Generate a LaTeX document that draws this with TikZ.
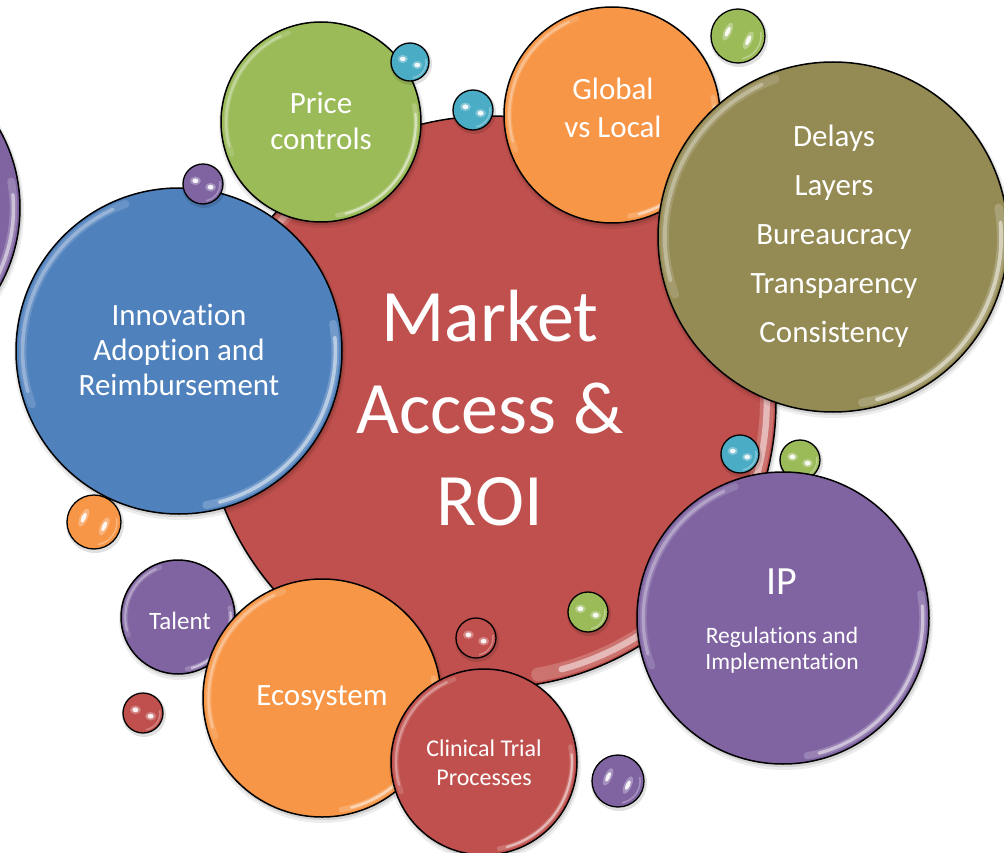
\documentclass[tikz,border=0pt]{standalone}
\usepackage{fontspec}
\setmainfont{Carlito}[Ligatures=NoCommon]
\definecolor{cRed}{HTML}{C0504D}
\definecolor{cBlue}{HTML}{4F81BD}
\definecolor{cGreen}{HTML}{9BBB59}
\definecolor{cPurple}{HTML}{8064A2}
\definecolor{cAqua}{HTML}{4BACC6}
\definecolor{cOrange}{HTML}{F79646}
\definecolor{cOlive}{HTML}{948A54}
\tikzset{
  bubble/.style={circle,draw=black,line width=1.5pt,inner sep=0pt,outer sep=0pt},
  lbl/.style={text=white,align=center,inner sep=0pt}
}
% big bubble: name, x, y, r, colour
\newcommand\mkbubble[5]{%
  \pgfmathsetmacro\bubRad{#4}%
  \pgfmathsetmacro\bubRadS{#4+3}%
  \pgfmathsetmacro\bubRadT{#4+1.2}%
  \pgfmathsetmacro\bubDia{2*#4}%
  \pgfmathsetmacro\bubHi{#4-3-0.022*#4}%
  \pgfmathsetmacro\bubWd{max(2.2,0.022*#4)}%
  \pgfmathsetmacro\bubWdB{2.2*max(2.2,0.022*#4)}%
  \fill[black,opacity=0.07] (#2+1,#3+3) circle[radius=\bubRadS pt];
  \fill[black,opacity=0.10] (#2+1,#3+2) circle[radius=\bubRadT pt];
  \node[bubble,fill=#5,minimum size=\bubDia pt] (#1) at (#2,#3) {};
  \draw[white,opacity=0.15,line width=\bubWdB pt,line cap=round]
    ([shift={(110:\bubHi pt)}]#1.center) arc[start angle=110,end angle=200,radius=\bubHi pt];
  \draw[white,opacity=0.3,line width=\bubWd pt,line cap=round]
    ([shift={(115:\bubHi pt)}]#1.center) arc[start angle=115,end angle=195,radius=\bubHi pt];
  \draw[white,opacity=0.2,line width=\bubWdB pt,line cap=round]
    ([shift={(-80:\bubHi pt)}]#1.center) arc[start angle=-80,end angle=10,radius=\bubHi pt];
  \draw[white,opacity=0.5,line width=\bubWd pt,line cap=round]
    ([shift={(-75:\bubHi pt)}]#1.center) arc[start angle=-75,end angle=5,radius=\bubHi pt];
}
% small ball: name, x, y, r, colour, xr factor, yr factor, rotation
\newcommand\mkball[8]{%
  \pgfmathsetmacro\blRadS{#4+2}%
  \pgfmathsetmacro\blDia{2*#4}%
  \pgfmathsetmacro\blOx{0.38*#4}%
  \pgfmathsetmacro\blOy{0.16*#4}%
  \pgfmathsetmacro\blA{#6*#4}%
  \pgfmathsetmacro\blB{#7*#4}%
  \pgfmathsetmacro\blAg{1.8*#6*#4}%
  \pgfmathsetmacro\blBg{1.8*#7*#4}%
  \pgfmathsetmacro\blHi{0.85*#4}%
  \fill[black,opacity=0.12] (#2+1,#3+2) circle[radius=\blRadS pt];
  \node[bubble,line width=1.3pt,fill=#5,minimum size=\blDia pt] (#1) at (#2,#3) {};
  \draw[white,opacity=0.3,line width=1.5pt]
    ([shift={(-80:\blHi pt)}]#1.center) arc[start angle=-80,end angle=10,radius=\blHi pt];
  \begin{scope}[shift={(#1.center)}]
    \fill[white,opacity=0.3,rotate around={#8:(-\blOx pt,\blOy pt)}] (-\blOx pt,\blOy pt) ellipse[x radius=\blAg pt,y radius=\blBg pt];
    \fill[white,opacity=0.3,rotate around={#8:(\blOx pt,-\blOy pt)}] (\blOx pt,-\blOy pt) ellipse[x radius=\blAg pt,y radius=\blBg pt];
    \fill[white,opacity=0.9,rotate around={#8:(-\blOx pt,\blOy pt)}] (-\blOx pt,\blOy pt) ellipse[x radius=\blA pt,y radius=\blB pt];
    \fill[white,opacity=0.9,rotate around={#8:(\blOx pt,-\blOy pt)}] (\blOx pt,-\blOy pt) ellipse[x radius=\blA pt,y radius=\blB pt];
  \end{scope}
}
\begin{document}
\begin{tikzpicture}[x=1pt,y=-1pt]
\useasboundingbox (0,0) rectangle (1004,853);
\clip (0,0) rectangle (1004,853);
\fill[white] (0,0) rectangle (1004,853);

\mkbubble{leftp}{-140}{208}{160}{cPurple}
\mkbubble{mkt}{490}{402}{286}{cRed}
\mkball{b1}{473}{110}{20}{cAqua}{0.15}{0.12}{0}
\mkbubble{price}{321}{122}{100}{cGreen}
\mkball{b2}{410}{62}{19}{cAqua}{0.15}{0.12}{0}
\mkbubble{glob}{612}{115}{108}{cOrange}
\mkball{b3}{738}{36}{27}{cGreen}{0.2}{0.08}{65}
\mkbubble{delay}{833}{237}{175}{cOlive}
\mkbubble{innov}{179}{351}{163}{cBlue}
\mkball{b4}{203}{184}{20}{cPurple}{0.15}{0.12}{0}
\mkball{b5}{94}{522}{27}{cOrange}{0.2}{0.08}{65}
\mkball{b6}{800}{460}{20}{cGreen}{0.15}{0.12}{0}
\mkball{b7}{740}{454}{19}{cAqua}{0.15}{0.12}{0}
\mkbubble{ip}{783}{618}{146}{cPurple}
\mkball{b8}{476}{638}{20}{cRed}{0.15}{0.12}{0}
\mkball{b9}{588}{612}{20}{cGreen}{0.15}{0.12}{0}
\mkbubble{talent}{178}{617}{57}{cPurple}
\mkbubble{eco}{322}{698}{119}{cOrange}
\mkbubble{clin}{484}{762}{93}{cRed}
\mkball{b10}{143}{713}{20}{cRed}{0.15}{0.12}{0}
\mkball{b11}{618}{781}{26}{cPurple}{0.2}{0.08}{65}

\node[lbl,font=\fontsize{74}{92}\selectfont] (mkt-t) at (490,408) {Market\\Access \&\\ROI};
\node[lbl,font=\fontsize{31}{36}\selectfont] (price-t) at (321,121) {Price\\controls};
\node[lbl,font=\fontsize{31}{38}\selectfont] (glob-t) at (613,108) {Global\\vs Local};
\node[lbl,font=\fontsize{31}{49}\selectfont] (delay-t) at (834,236) {Delays\\Layers\\Bureaucracy\\Transparency\\Consistency};
\node[lbl,font=\fontsize{31}{35}\selectfont] (innov-t) at (179,350) {Innovation\\Adoption and\\Reimbursement};
\node[lbl,font=\fontsize{40}{40}\selectfont] (ip-t) at (782,582) {IP};
\node[lbl,font=\fontsize{23.5}{26}\selectfont] (reg-t) at (782,650) {Regulations and\\Implementation};
\node[lbl,font=\fontsize{25}{25}\selectfont] (talent-t) at (180,621) {Talent};
\node[lbl,font=\fontsize{31}{31}\selectfont] (eco-t) at (322,698) {Ecosystem};
\node[lbl,font=\fontsize{24}{29}\selectfont] (clin-t) at (484,763) {Clinical Trial\\Processes};
\end{tikzpicture}
\end{document}
